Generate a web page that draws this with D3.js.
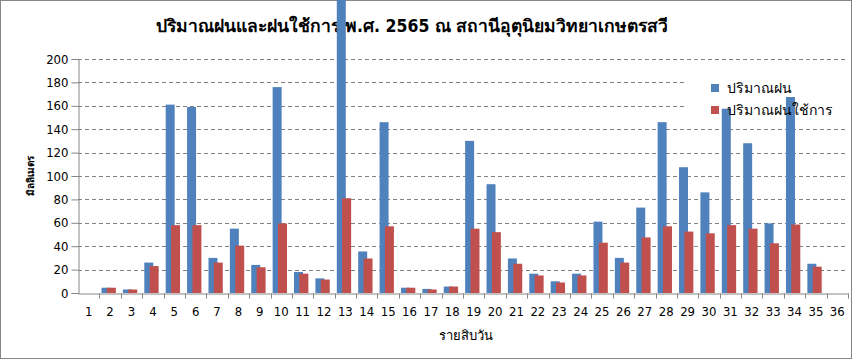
<!DOCTYPE html>
<html>
<head>
<meta charset="utf-8">
<script src="https://cdn.jsdelivr.net/npm/d3@7"></script>
<style>
  body { margin: 0; background: #fff; }
  text { font-family: Tahoma, "DejaVu Sans Condensed", "DejaVu Sans", sans-serif; }
</style>
</head>
<body>
<svg id="chart" width="864" height="361"></svg>
<script>
// ten-day periods 1..36
const periods = d3.range(1, 37).map(String);
const rain =    [0, 4.5, 3, 26, 161, 159, 30, 55, 24, 176, 18, 12.5, 260, 35.5, 146, 4.5, 3.5, 5.5,
                 130, 93, 29.5, 16.5, 10, 16.5, 61, 30, 73, 146, 107.5, 86, 157.5, 128, 59.5, 167.5, 25, 0];
const effRain = [0, 4.5, 3, 23, 58, 58, 26, 40.5, 22, 59.5, 16.5, 11.5, 81, 29.5, 57, 4.5, 3, 5.5,
                 55, 52, 25, 15, 9, 15, 43, 26, 47.5, 57, 52.5, 51, 58, 55, 42.5, 58.5, 22.5, 0];
const yTicks = [0, 20, 40, 60, 80, 100, 120, 140, 160, 180, 200];
const seriesNames = ["ปริมาณฝน", "ปริมาณฝนใช้การ"];
const colors = ["#4f81bd", "#c0504d"];

const svg = d3.select("#chart");
const plotL = 78, plotR = 848, plotT = 59, plotB = 293;

const x = d3.scaleBand().domain(periods).range([plotL, plotR]);
const y = d3.scaleLinear().domain([0, 200]).range([plotB, plotT]);
const bw = x.bandwidth();

// outer border
svg.append("rect")
  .attr("x", 0.5).attr("y", 0.5)
  .attr("width", 851).attr("height", 358)
  .attr("fill", "#fff").attr("stroke", "#868686");

// title
svg.append("text")
  .attr("x", 412).attr("y", 32)
  .attr("text-anchor", "middle")
  .attr("font-size", 17.5).attr("font-weight", "bold")
  .text("ปริมาณฝนและฝนใช้การ พ.ศ. 2565 ณ สถานีอุตุนิยมวิทยาเกษตรสวี");

// gridlines
svg.append("g")
  .selectAll("line")
  .data(yTicks.filter(d => d > 0))
  .join("line")
  .attr("x1", plotL).attr("x2", plotR)
  .attr("y1", d => Math.round(y(d)) + 0.5).attr("y2", d => Math.round(y(d)) + 0.5)
  .attr("stroke", "#808080").attr("stroke-dasharray", "4,3");

// legend background hides gridlines
svg.append("rect")
  .attr("x", 685).attr("y", 68).attr("width", 163).attr("height", 56)
  .attr("fill", "#fff");

// y axis
const yAxis = svg.append("g")
  .attr("transform", `translate(${plotL + 0.5},0)`)
  .call(d3.axisLeft(y).tickValues(yTicks).tickSize(7).tickPadding(3));
yAxis.select(".domain").attr("stroke", "#868686");
yAxis.selectAll(".tick line").attr("stroke", "#868686");
yAxis.selectAll(".tick text").attr("font-size", 13).attr("fill", "#000")
  .style("font-family", "Tahoma, 'DejaVu Sans Condensed', sans-serif");

// bars
const bars = svg.append("g");
bars.selectAll("rect.rain")
  .data(periods)
  .join("rect")
  .attr("class", "rain")
  .attr("x", d => x(d) + bw * 0.1)
  .attr("width", bw * 0.42)
  .attr("y", (d, i) => Math.max(0, y(rain[i])))
  .attr("height", (d, i) => plotB - Math.max(0, y(rain[i])))
  .attr("fill", colors[0]);
bars.selectAll("rect.eff")
  .data(periods)
  .join("rect")
  .attr("class", "eff")
  .attr("x", d => x(d) + bw * 0.35)
  .attr("width", bw * 0.42)
  .attr("y", (d, i) => y(effRain[i]))
  .attr("height", (d, i) => plotB - y(effRain[i]))
  .attr("fill", colors[1]);

// x axis
const xAxis = svg.append("g")
  .attr("transform", `translate(0,${plotB + 0.5})`)
  .call(d3.axisBottom(x).tickSize(0).tickPadding(13));
xAxis.select(".domain").attr("stroke", "#868686");
xAxis.selectAll(".tick text").attr("font-size", 13).attr("fill", "#000")
  .style("font-family", "Tahoma, 'DejaVu Sans Condensed', sans-serif");
xAxis.selectAll("line.sep")
  .data(d3.range(1, periods.length + 1))
  .join("line")
  .attr("class", "sep")
  .attr("x1", i => Math.round(plotL + i * bw) + 0.5).attr("x2", i => Math.round(plotL + i * bw) + 0.5)
  .attr("y1", 0).attr("y2", 5)
  .attr("stroke", "#868686");

// axis titles
svg.append("text")
  .attr("transform", "translate(34,176) rotate(-90)")
  .attr("text-anchor", "middle")
  .attr("font-size", 10).attr("font-weight", "bold")
  .text("มิลลิเมตร");
svg.append("text")
  .attr("x", 466).attr("y", 340)
  .attr("text-anchor", "middle")
  .attr("font-size", 13)
  .text("รายสิบวัน");

// legend
const legend = svg.append("g");
seriesNames.forEach((name, i) => {
  legend.append("rect")
    .attr("x", 711).attr("y", 84 + i * 22)
    .attr("width", 8).attr("height", 8)
    .attr("fill", colors[i]);
  legend.append("text")
    .attr("x", 727).attr("y", 93 + i * 22)
    .attr("font-size", 14)
    .text(name);
});
</script>
</body>
</html>
